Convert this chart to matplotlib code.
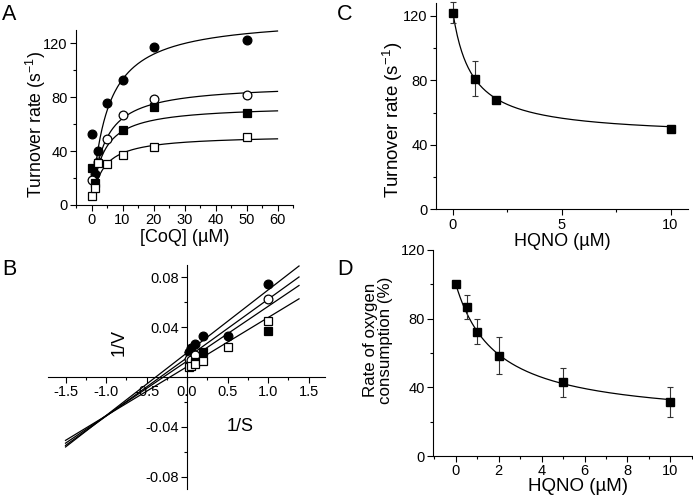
import numpy as np
import matplotlib
matplotlib.use('Agg')
import matplotlib.pyplot as plt
from matplotlib.ticker import MultipleLocator

plt.rcParams['font.family'] = ['Liberation Sans', 'DejaVu Sans']
plt.rcParams['axes.linewidth'] = 0.8
plt.rcParams['xtick.direction'] = 'out'
plt.rcParams['ytick.direction'] = 'out'

# ---- panel A: turnover vs [CoQ]
coq = [0, 1, 2, 5, 10, 20, 50]
a_fill_circ = [52.5, 23, 40, 76, 93, 117, 122.5]
a_open_circ = [18.7, None, 32, 49, 66.5, 78.4, 81.4]
a_fill_sq = [27.4, 16.2, None, None, 55.5, 72.5, 68.5]
a_open_sq = [6.7, 12.9, 31, 30.4, 37.3, 42.8, 50.3]
# Michaelis-Menten fit parameters (Vmax, Km)
a_fits = [(140, 5.0), (90, 4.0), (74, 3.5), (52, 3.5)]

# ---- panel B: Lineweaver-Burk
inv_s = [0.02, 0.05, 0.1, 0.2, 0.5, 1.0]
b_fill_circ = [0.0202, 0.0229, 0.0269, 0.0327, 0.0327, 0.0747]
b_open_circ = [0.0141, 0.0136, 0.0175, None, None, 0.0628]
b_fill_sq = [None, None, 0.0122, 0.0202, None, 0.0367]
b_open_sq = [0.0077, 0.0085, 0.0106, 0.0128, 0.0242, 0.0447]
# line (slope, intercept)
b_lines = [(0.0505, 0.0195), (0.0470, 0.0155), (0.0440, 0.0128), (0.0395, 0.0083)]

# ---- panel C: turnover vs HQNO
c_x = [0, 1, 2, 10]
c_y = [122, 81, 68, 50]
c_err = [6.5, 11, 1, 1]
c_fit = (45, 122, 0.88)  # bottom, top, IC50

# ---- panel D: oxygen consumption vs HQNO
d_x = [0, 0.5, 1, 2, 5, 10]
d_y = [100, 87, 72.5, 58.4, 43, 31.6]
d_err = [0, 7, 7.5, 10.7, 8.4, 8.7]
d_fit = (20, 100, 1.91)

fig = plt.figure(figsize=(6.93, 4.98), dpi=100)

def style(ax):
    ax.spines['top'].set_visible(False)
    ax.spines['right'].set_visible(False)
    ax.tick_params(which='major', length=4, width=0.8, labelsize=10.5, pad=2)
    ax.tick_params(which='minor', length=2.5, width=0.8)

def pts(ax, x, y, marker, face, ms):
    xx = [a for a, b in zip(x, y) if b is not None]
    yy = [b for b in y if b is not None]
    ax.plot(xx, yy, linestyle='none', marker=marker, mfc=face, mec='black',
            mew=0.9, ms=ms, clip_on=False, zorder=3)

# A
axA = fig.add_axes([0.1097, 0.5884, 0.3131, 0.3514])
style(axA)
xs = np.linspace(1, 60, 200)
for vmax, km in a_fits:
    axA.plot(xs, vmax * xs / (km + xs), color='black', lw=0.9)
pts(axA, coq, a_fill_circ, 'o', 'black', 6.3)
pts(axA, coq, a_open_circ, 'o', 'white', 6.3)
pts(axA, coq, a_fill_sq, 's', 'black', 5.3)
pts(axA, coq, a_open_sq, 's', 'white', 5.3)
axA.set_xlim(-5, 65)
axA.set_ylim(0, 130)
axA.set_xticks([0, 10, 20, 30, 40, 50, 60])
axA.xaxis.set_minor_locator(MultipleLocator(5))
axA.yaxis.set_major_locator(MultipleLocator(40))
axA.yaxis.set_minor_locator(MultipleLocator(20))
axA.set_xlabel('[CoQ] (µM)', fontsize=13, labelpad=1)
axA.set_ylabel('Turnover rate (s$^{\\mathregular{-1}}$)', fontsize=12.7)
axA.yaxis.set_label_coords(-0.13, 0.457)

# B
axB = fig.add_axes([0.0688, 0.0181, 0.4001, 0.4498])
style(axB)
axB.spines['left'].set_position('zero')
axB.spines['bottom'].set_position('zero')
xl = np.linspace(-1.5, 1.38, 50)
for k, b in b_lines:
    axB.plot(xl, k * xl + b, color='black', lw=0.9, clip_on=False)
pts(axB, inv_s, b_fill_circ, 'o', 'black', 6.3)
pts(axB, inv_s, b_open_circ, 'o', 'white', 6.3)
pts(axB, inv_s, b_fill_sq, 's', 'black', 5.3)
pts(axB, inv_s, b_open_sq, 's', 'white', 5.3)
axB.set_xlim(-1.72, 1.7)
axB.set_ylim(-0.09, 0.09)
axB.set_xticks([-1.5, -1.0, -0.5, 0.0, 0.5, 1.0, 1.5])
axB.set_xticklabels(['-1.5', '-1.0', '-0.5', '0.0', '0.5', '1.0', '1.5'])
axB.xaxis.set_minor_locator(MultipleLocator(0.25))
axB.set_yticks([-0.08, -0.04, 0.04, 0.08])
axB.set_yticklabels(['-0.08', '-0.04', '0.04', '0.08'])
axB.set_yticks([-0.06, -0.02, 0.02, 0.06], minor=True)
axB.text(0.257, 0.652, '1/V', rotation=90, fontsize=13, transform=axB.transAxes,
         ha='center', va='center')
axB.text(0.693, 0.277, '1/S', fontsize=13, transform=axB.transAxes,
         ha='center', va='center')

# C
axC = fig.add_axes([0.6291, 0.5797, 0.3636, 0.4143])
style(axC)
xc = np.linspace(0, 10, 200)
lo, hi, ic = c_fit
axC.plot(xc, lo + (hi - lo) / (1 + xc / ic), color='black', lw=0.9)
axC.errorbar(c_x, c_y, yerr=c_err, fmt='s', color='black', ms=5.3, capsize=2.5,
             elinewidth=0.8, capthick=0.8, ecolor='#333333', clip_on=False, zorder=3)
axC.set_xlim(-0.78, 10.8)
axC.set_ylim(0, 128)
axC.set_xticks([0, 5, 10])
axC.xaxis.set_minor_locator(MultipleLocator(2.5))
axC.yaxis.set_major_locator(MultipleLocator(40))
axC.yaxis.set_minor_locator(MultipleLocator(20))
axC.set_xlabel('HQNO (µM)', fontsize=13, labelpad=1)
axC.set_ylabel('Turnover rate (s$^{\\mathregular{-1}}$)', fontsize=13.5)
axC.yaxis.set_label_coords(-0.123, 0.435)

# D
axD = fig.add_axes([0.6253, 0.0843, 0.3729, 0.4137])
style(axD)
xd = np.linspace(0, 10, 200)
lo, hi, ic = d_fit
axD.plot(xd, lo + (hi - lo) / (1 + xd / ic), color='black', lw=0.9)
axD.errorbar(d_x, d_y, yerr=d_err, fmt='s', color='black', ms=5.3, capsize=2.5,
             elinewidth=0.8, capthick=0.8, ecolor='#333333', clip_on=False, zorder=3)
axD.set_xlim(-1.05, 11)
axD.set_ylim(0, 120)
axD.set_xticks([0, 2, 4, 6, 8, 10])
axD.xaxis.set_minor_locator(MultipleLocator(1))
axD.yaxis.set_major_locator(MultipleLocator(40))
axD.yaxis.set_minor_locator(MultipleLocator(20))
axD.set_xlabel('HQNO (µM)', fontsize=13.5)
axD.xaxis.set_label_coords(0.56, -0.105)
axD.set_ylabel('Rate of oxygen\nconsumption (%)', fontsize=12.2, linespacing=1.0)
axD.yaxis.set_label_coords(-0.156, 0.563)

for lab, x, y in [('A', 0.003, 0.992), ('B', 0.003, 0.48), ('C', 0.486, 0.992), ('D', 0.487, 0.48)]:
    fig.text(x, y, lab, fontsize=15.5, ha='left', va='top')

fig.savefig('out.png', dpi=100)
